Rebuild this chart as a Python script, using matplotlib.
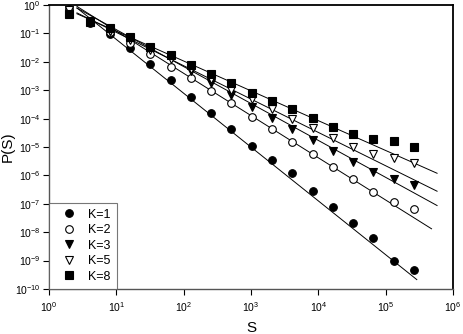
import numpy as np
import matplotlib
matplotlib.use("Agg")
import matplotlib.pyplot as plt

plt.rcParams['font.family'] = ['Liberation Sans', 'DejaVu Sans']
plt.rcParams['mathtext.fontset'] = 'custom'
plt.rcParams['mathtext.rm'] = 'Liberation Sans'
plt.rcParams['mathtext.it'] = 'Liberation Sans'

# cluster sizes S = 2^1 .. 2^18
S = 2.0 ** np.arange(1, 19)

# log10 P(S)
logP_k1 = [-0.25, -0.63, -1.02, -1.51, -2.08, -2.64, -3.24, -3.80, -4.37,
           -4.96, -5.46, -5.92, -6.55, -7.11, -7.68, -8.20, -9.01, -9.33]
logP_k2 = [-0.14, -0.60, -0.95, -1.34, -1.73, -2.18, -2.57, -3.03, -3.45,
           -3.94, -4.37, -4.82, -5.25, -5.70, -6.13, -6.58, -6.94, -7.18]
logP_k3 = [-0.18, -0.60, -0.92, -1.20, -1.51, -1.87, -2.32, -2.75, -3.17,
           -3.59, -3.98, -4.37, -4.75, -5.14, -5.53, -5.88, -6.13, -6.34]
logP_k5 = [-0.18, -0.56, -0.92, -1.23, -1.58, -1.90, -2.25, -2.61, -2.99,
           -3.31, -3.66, -4.01, -4.33, -4.68, -5.00, -5.25, -5.39, -5.56]
logP_k8 = [-0.32, -0.60, -0.81, -1.13, -1.48, -1.76, -2.11, -2.43, -2.75,
           -3.10, -3.38, -3.66, -3.98, -4.30, -4.54, -4.72, -4.79, -5.00]

labels = ['K=1', 'K=2', 'K=3', 'K=5', 'K=8']
markers = ['o', 'o', 'v', 'v', 's']
filled = [True, False, True, False, True]

# power-law fits P = A * S^alpha, drawn between S_lo and S_hi
fit_A = [4.81, 3.70, 2.70, 1.62, 1.34]
fit_alpha = [-1.895, -1.487, -1.30, -1.174, -1.05]
fit_lo = [2.6, 2.6, 2.6, 2.6, 2.6]
fit_hi = [2.9e5, 4.8e5, 5.8e5, 5.8e5, 5.8e5]

series = [logP_k1, logP_k2, logP_k3, logP_k5, logP_k8]

fig = plt.figure(figsize=(4.63, 3.34), dpi=100)
ax = fig.add_axes([49/463, 45/334, 404/463, 284/334])

for i in range(5):
    s = np.logspace(np.log10(fit_lo[i]), np.log10(fit_hi[i]), 50)
    ax.plot(s, fit_A[i] * s ** fit_alpha[i], '-', color='black', lw=0.7)

for i in range(5):
    face = 'black' if filled[i] else 'white'
    ax.plot(S, 10.0 ** np.array(series[i]), markers[i], ls='none',
            mfc=face, mec='black', mew=0.8, ms=5.5, label=labels[i])

ax.set_xscale('log')
ax.set_yscale('log')
ax.set_xlim(1, 1e6)
ax.set_ylim(1e-10, 1)
ax.set_xticks([10.0 ** k for k in range(0, 7)])
ax.set_yticks([10.0 ** k for k in range(-10, 1)])
ax.minorticks_off()
ax.tick_params(axis='both', which='major', direction='out', length=4,
               width=0.8, labelsize=7.5, top=False, right=False)
ax.tick_params(axis='x', pad=4)
ax.tick_params(axis='y', pad=2)

for side in ['left', 'bottom']:
    ax.spines[side].set_color('#555555')
    ax.spines[side].set_linewidth(1.0)
for side in ['top', 'right']:
    ax.spines[side].set_color('black')
    ax.spines[side].set_linewidth(1.3)

ax.set_xlabel('S', fontsize=11)
ax.set_ylabel('P(S)', fontsize=11)
ax.xaxis.set_label_coords(0.5, -0.113)
ax.yaxis.set_label_coords(-0.086, 0.5)

leg = ax.legend(loc='lower left', borderaxespad=0, fancybox=False,
                fontsize=9, handletextpad=0.45, labelspacing=0.28,
                borderpad=0.5, handlelength=2.2)
leg.get_frame().set_edgecolor('#555555')
leg.get_frame().set_linewidth(0.8)

fig.savefig('out.png', dpi=100)
